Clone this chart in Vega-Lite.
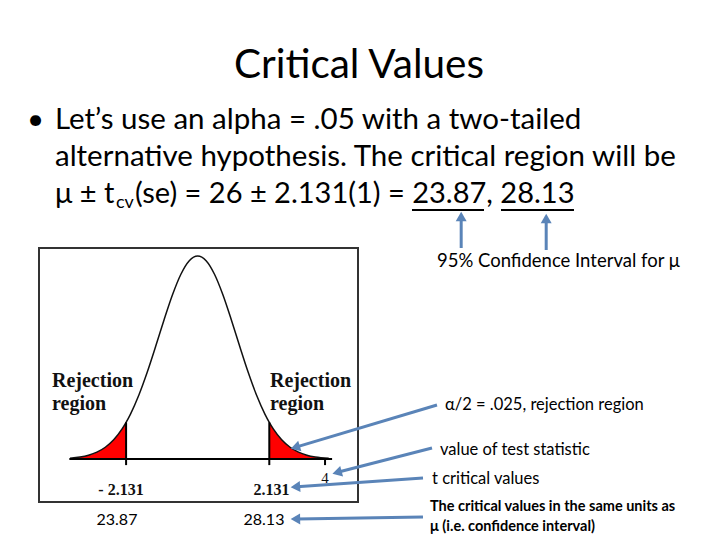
{
  "$schema": "https://vega.github.io/schema/vega-lite/v6.json",
  "width": 319,
  "height": 254,
  "autosize": {"type": "none"},
  "padding": {"left": 39, "top": 248, "right": 362, "bottom": 38},
  "background": "white",
  "config": {"view": {"stroke": "#333333", "strokeWidth": 2}},
  "datasets": {
    "curve": [
      {"segment": "left tail", "t": -3.8, "d": 0.00174},
      {"segment": "left tail", "t": -3.5, "d": 0.00396},
      {"segment": "left tail", "t": -3.25, "d": 0.00748},
      {"segment": "left tail", "t": -3.0, "d": 0.01347},
      {"segment": "left tail", "t": -2.75, "d": 0.02316},
      {"segment": "left tail", "t": -2.5, "d": 0.03796},
      {"segment": "left tail", "t": -2.25, "d": 0.05938},
      {"segment": "left tail", "t": -2.131, "d": 0.07228},
      {"segment": "center", "t": -2.0, "d": 0.08861},
      {"segment": "center", "t": -1.75, "d": 0.12616},
      {"segment": "center", "t": -1.5, "d": 0.17134},
      {"segment": "center", "t": -1.25, "d": 0.22201},
      {"segment": "center", "t": -1.0, "d": 0.27442},
      {"segment": "center", "t": -0.75, "d": 0.32362},
      {"segment": "center", "t": -0.5, "d": 0.36404},
      {"segment": "center", "t": -0.25, "d": 0.39069},
      {"segment": "center", "t": 0.0, "d": 0.4},
      {"segment": "center", "t": 0.25, "d": 0.39069},
      {"segment": "center", "t": 0.5, "d": 0.36404},
      {"segment": "center", "t": 0.75, "d": 0.32362},
      {"segment": "center", "t": 1.0, "d": 0.27442},
      {"segment": "center", "t": 1.25, "d": 0.22201},
      {"segment": "center", "t": 1.5, "d": 0.17134},
      {"segment": "center", "t": 1.75, "d": 0.12616},
      {"segment": "center", "t": 2.0, "d": 0.08861},
      {"segment": "right tail", "t": 2.131, "d": 0.07228},
      {"segment": "right tail", "t": 2.25, "d": 0.05938},
      {"segment": "right tail", "t": 2.5, "d": 0.03796},
      {"segment": "right tail", "t": 2.75, "d": 0.02316},
      {"segment": "right tail", "t": 3.0, "d": 0.01347},
      {"segment": "right tail", "t": 3.25, "d": 0.00748},
      {"segment": "right tail", "t": 3.5, "d": 0.00396},
      {"segment": "right tail", "t": 3.9, "d": 0.0013}
    ],
    "rules": [
      {"what": "axis", "t": -3.82, "t2": 4.0, "d": 0, "d2": 0},
      {"what": "critical -", "t": -2.131, "t2": -2.131, "d": -0.012, "d2": 0.07228},
      {"what": "critical +", "t": 2.131, "t2": 2.131, "d": -0.012, "d2": 0.07228},
      {"what": "tick 4", "t": 3.79, "t2": 3.79, "d": -0.012, "d2": 0},
      {"what": "underline 23.87", "t": 6.378, "t2": 8.521, "d": 0.4906, "d2": 0.4906},
      {"what": "underline 28.13", "t": 9.027, "t2": 11.199, "d": 0.4906, "d2": 0.4906}
    ],
    "arrows": [
      {"arrow": "A1", "o": 0, "t": 7.842, "d": 0.4158},
      {"arrow": "A1", "o": 1, "t": 7.842, "d": 0.4749},
      {"arrow": "A2", "o": 0, "t": 10.372, "d": 0.4118},
      {"arrow": "A2", "o": 1, "t": 10.372, "d": 0.4709},
      {"arrow": "A3", "o": 0, "t": 7.122, "d": 0.1064},
      {"arrow": "A3", "o": 1, "t": 2.949, "d": 0.0238},
      {"arrow": "A4", "o": 0, "t": 6.973, "d": 0.0217},
      {"arrow": "A4", "o": 1, "t": 4.193, "d": -0.0256},
      {"arrow": "A5", "o": 0, "t": 6.705, "d": -0.0374},
      {"arrow": "A5", "o": 1, "t": 2.955, "d": -0.0546},
      {"arrow": "A6", "o": 0, "t": 6.705, "d": -0.1143},
      {"arrow": "A6", "o": 1, "t": 2.955, "d": -0.1182}
    ],
    "heads": [
      {"arrow": "A1", "t": 7.842, "d": 0.4749, "heading": 0},
      {"arrow": "A2", "t": 10.372, "d": 0.4709, "heading": 0},
      {"arrow": "A3", "t": 2.949, "d": 0.0238, "heading": 253},
      {"arrow": "A4", "t": 4.193, "d": -0.0256, "heading": 255},
      {"arrow": "A5", "t": 2.955, "d": -0.0546, "heading": 266},
      {"arrow": "A6", "t": 2.955, "d": -0.1182, "heading": 269}
    ],
    "texts": [
      {"role": "title", "label": "Critical Values", "t": 4.801, "d": 0.7507},
      {"role": "body", "label": "•", "t": -5.08, "d": 0.6502},
      {"role": "body", "label": "Let’s use an alpha = .05 with a two-tailed", "t": -4.247, "d": 0.6502},
      {"role": "body", "label": "alternative hypothesis. The critical region will be", "t": -4.247, "d": 0.5773},
      {"role": "body3", "label": "μ ± t", "t": -4.247, "d": 0.5044},
      {"role": "sub", "label": "cv", "t": -2.431, "d": 0.4946},
      {"role": "body3", "label": "(se) = 26 ± 2.131(1) = 23.87, 28.13", "t": -1.866, "d": 0.5044},
      {"role": "reject", "label": "Rejection", "t": -4.336, "d": 0.1537},
      {"role": "reject", "label": "region", "t": -4.336, "d": 0.1084},
      {"role": "reject", "label": "Rejection", "t": 2.152, "d": 0.1537},
      {"role": "reject", "label": "region", "t": 2.152, "d": 0.1084},
      {"role": "tcrit", "label": "- 2.131", "t": -2.283, "d": -0.0611},
      {"role": "tcrit", "label": "2.131", "t": 2.196, "d": -0.0611},
      {"role": "tick", "label": "4", "t": 3.79, "d": -0.0374},
      {"role": "ci", "label": "23.87", "t": -2.402, "d": -0.1202},
      {"role": "ci", "label": "28.13", "t": 1.973, "d": -0.1202},
      {"role": "big note", "label": "95% Confidence Interval for μ", "t": 7.122, "d": 0.3901},
      {"role": "note", "label": "α/2 = .025, rejection region", "t": 7.36, "d": 0.1064},
      {"role": "note", "label": "value of test statistic", "t": 7.211, "d": 0.0177},
      {"role": "note", "label": "t critical values", "t": 6.973, "d": -0.0394},
      {"role": "small", "label": "The critical values in the same units as", "t": 6.914, "d": -0.0946},
      {"role": "small", "label": "μ (i.e. confidence interval)", "t": 6.914, "d": -0.134}
    ]
  },
  "encoding": {
    "x": {"field": "t", "type": "quantitative", "axis": null, "scale": {"domain": [-4.723, 4.771], "nice": false, "zero": false}},
    "y": {"field": "d", "type": "quantitative", "axis": null, "scale": {"domain": [-0.0847, 0.4158], "nice": false, "zero": false}}
  },
  "layer": [
    {
      "data": {"name": "curve"},
      "transform": [{"filter": "datum.segment == 'left tail'"}],
      "mark": {"type": "area", "color": "#ff0000", "opacity": 1, "interpolate": "monotone"},
      "encoding": {
        "y": {"field": "d", "type": "quantitative", "stack": null},
        "y2": {"datum": 0}
      }
    },
    {
      "data": {"name": "curve"},
      "transform": [{"filter": "datum.segment == 'right tail'"}],
      "mark": {"type": "area", "color": "#ff0000", "opacity": 1, "interpolate": "monotone"},
      "encoding": {
        "y": {"field": "d", "type": "quantitative", "stack": null},
        "y2": {"datum": 0}
      }
    },
    {
      "data": {"name": "curve"},
      "mark": {"type": "line", "color": "#111111", "strokeWidth": 1.5, "interpolate": "monotone"},
      "encoding": {"order": {"field": "t", "type": "quantitative"}}
    },
    {
      "data": {"name": "rules"},
      "mark": {"type": "rule", "color": "#000000", "strokeWidth": 2},
      "encoding": {"x2": {"field": "t2"}, "y2": {"field": "d2"}}
    },
    {
      "data": {"name": "arrows"},
      "mark": {"type": "line", "color": "#5a84b8", "strokeWidth": 3},
      "encoding": {"detail": {"field": "arrow"}, "order": {"field": "o", "type": "quantitative"}}
    },
    {
      "data": {"name": "heads"},
      "mark": {"type": "point", "shape": "triangle", "filled": true, "color": "#5a84b8", "size": 120, "opacity": 1},
      "encoding": {"angle": {"field": "heading", "type": "quantitative", "scale": null}}
    },
    {
      "data": {"name": "texts"},
      "transform": [{"filter": "datum.role == 'title'"}],
      "mark": {"type": "text", "font": "Lato", "fontSize": 40.5, "align": "center", "baseline": "alphabetic", "color": "#000000"},
      "encoding": {"text": {"field": "label"}}
    },
    {
      "data": {"name": "texts"},
      "transform": [{"filter": "datum.role == 'body'"}],
      "mark": {"type": "text", "font": "Lato", "fontSize": 29.5, "align": "left", "baseline": "alphabetic", "color": "#000000"},
      "encoding": {"text": {"field": "label"}}
    },
    {
      "data": {"name": "texts"},
      "transform": [{"filter": "datum.role == 'body3'"}],
      "mark": {"type": "text", "font": "Lato", "fontSize": 29, "align": "left", "baseline": "alphabetic", "color": "#000000"},
      "encoding": {"text": {"field": "label"}}
    },
    {
      "data": {"name": "texts"},
      "transform": [{"filter": "datum.role == 'sub'"}],
      "mark": {"type": "text", "font": "Lato", "fontSize": 18, "align": "left", "baseline": "alphabetic", "color": "#000000"},
      "encoding": {"text": {"field": "label"}}
    },
    {
      "data": {"name": "texts"},
      "transform": [{"filter": "datum.role == 'reject'"}],
      "mark": {"type": "text", "font": "Liberation Serif", "fontWeight": "bold", "fontSize": 20, "align": "left", "baseline": "middle", "color": "#111111"},
      "encoding": {"text": {"field": "label"}}
    },
    {
      "data": {"name": "texts"},
      "transform": [{"filter": "datum.role == 'tcrit'"}],
      "mark": {"type": "text", "font": "Liberation Serif", "fontWeight": "bold", "fontSize": 16, "align": "center", "baseline": "middle", "color": "#111111"},
      "encoding": {"text": {"field": "label"}}
    },
    {
      "data": {"name": "texts"},
      "transform": [{"filter": "datum.role == 'tick'"}],
      "mark": {"type": "text", "font": "Liberation Serif", "fontSize": 15, "align": "center", "baseline": "middle", "color": "#111111"},
      "encoding": {"text": {"field": "label"}}
    },
    {
      "data": {"name": "texts"},
      "transform": [{"filter": "datum.role == 'ci'"}],
      "mark": {"type": "text", "font": "Lato", "fontSize": 16, "align": "center", "baseline": "middle", "color": "#000000"},
      "encoding": {"text": {"field": "label"}}
    },
    {
      "data": {"name": "texts"},
      "transform": [{"filter": "datum.role == 'big note'"}],
      "mark": {"type": "text", "font": "Lato", "fontSize": 18.5, "align": "left", "baseline": "middle", "color": "#000000"},
      "encoding": {"text": {"field": "label"}}
    },
    {
      "data": {"name": "texts"},
      "transform": [{"filter": "datum.role == 'note'"}],
      "mark": {"type": "text", "font": "Lato", "fontSize": 16.5, "align": "left", "baseline": "middle", "color": "#000000"},
      "encoding": {"text": {"field": "label"}}
    },
    {
      "data": {"name": "texts"},
      "transform": [{"filter": "datum.role == 'small'"}],
      "mark": {"type": "text", "font": "Lato", "fontWeight": "bold", "fontSize": 14.5, "align": "left", "baseline": "middle", "color": "#000000"},
      "encoding": {"text": {"field": "label"}}
    }
  ]
}
